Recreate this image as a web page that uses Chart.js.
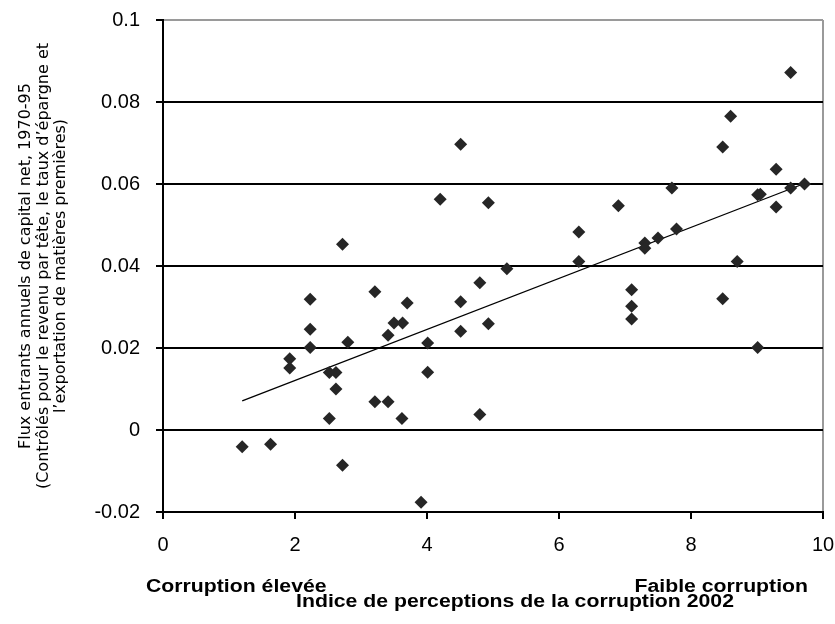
<!DOCTYPE html>
<html>
<head>
<meta charset="utf-8">
<script src="https://cdn.jsdelivr.net/npm/chart.js@4"></script>
<style>
  html, body { margin: 0; padding: 0; background: #fff; }
  #wrap { width: 835px; height: 624px; }
</style>
</head>
<body>
<div id="wrap"><canvas id="cpi-chart" width="835" height="624"></canvas></div>
<script>
// corruption perception index (x) vs net capital inflows (y)
const cpiScores = [1.2, 1.63, 1.92, 1.92, 2.23, 2.23, 2.23, 2.52, 2.52, 2.62, 2.62, 2.72, 2.72, 2.8,
    3.21, 3.21, 3.41, 3.41, 3.5, 3.63, 3.62, 3.7, 3.91, 4.01, 4.01, 4.2, 4.51, 4.51, 4.51, 4.8, 4.8,
    4.93, 4.93, 5.21, 6.3, 6.3, 6.9, 7.1, 7.1, 7.1, 7.3, 7.3, 7.5, 7.71, 7.78, 8.48, 8.48, 8.6, 8.7,
    9.01, 9.05, 9.01, 9.29, 9.29, 9.51, 9.51, 9.72];
const capitalInflows = [-0.0041, -0.0035, 0.0174, 0.0151, 0.0319, 0.0246, 0.0201, 0.014, 0.0028, 0.014, 0.01, 0.0453, -0.0086, 0.0214,
    0.0337, 0.0069, 0.0231, 0.0069, 0.0261, 0.0261, 0.0028, 0.031, -0.0176, 0.0212, 0.0141, 0.0563, 0.0697, 0.0313, 0.0241, 0.0359, 0.0038,
    0.0554, 0.0259, 0.0393, 0.0483, 0.0411, 0.0547, 0.0342, 0.0302, 0.0271, 0.0456, 0.0443, 0.0468, 0.059, 0.049, 0.069, 0.032, 0.0765, 0.0411,
    0.0574, 0.0575, 0.0201, 0.0636, 0.0544, 0.0872, 0.059, 0.06];

// fitted trend line end points
const trendX = [1.2, 9.7];
const trendY = [0.0071, 0.060];

const xTicks = [0, 2, 4, 6, 8, 10];
const yTicks = [-0.02, 0, 0.02, 0.04, 0.06, 0.08, 0.1];
const yTickLabels = ["-0.02", "0", "0.02", "0.04", "0.06", "0.08", "0.1"];

const yTitle = [
    "Flux entrants annuels de capital net, 1970-95",
    "(Contrôlés pour le revenu par tête, le taux d’épargne et",
    "l’exportation de matières premières)"
];
const leftNote = "Corruption élevée";
const rightNote = "Faible corruption";
const xTitle = "Indice de perceptions de la corruption 2002";

// bottom captions, drawn under the x tick labels
const captionPlugin = {
    id: 'captions',
    afterDraw(chart) {
        const ctx = chart.ctx;
        const stretch = 1.18;
        ctx.save();
        ctx.fillStyle = '#000';
        ctx.font = 'bold 18px "Liberation Sans", Arial, sans-serif';
        ctx.textBaseline = 'alphabetic';

        function put(text, x, y, align) {
            const w = ctx.measureText(text).width * stretch;
            let left = x;
            if (align === 'right') left = x - w;
            if (align === 'center') left = x - w / 2;
            ctx.save();
            ctx.translate(left, y);
            ctx.scale(stretch, 1);
            ctx.textAlign = 'left';
            ctx.fillText(text, 0, 0);
            ctx.restore();
        }

        put(leftNote, 146, 592, 'left');
        put(rightNote, 808, 592, 'right');
        put(xTitle, 515, 607, 'center');
        ctx.restore();
    }
};

const ctx = document.getElementById('cpi-chart').getContext('2d');

new Chart(ctx, {
    type: 'scatter',
    data: {
        datasets: [{
            label: 'Pays',
            data: cpiScores.map((x, i) => ({ x: x, y: capitalInflows[i] })),
            pointStyle: 'rectRot',
            pointRadius: 6.5,
            pointHoverRadius: 6.5,
            backgroundColor: '#262626',
            borderWidth: 0
        }, {
            label: 'Tendance',
            data: trendX.map((x, i) => ({ x: x, y: trendY[i] })),
            showLine: true,
            borderColor: '#000',
            borderWidth: 1.3,
            pointRadius: 0
        }]
    },
    plugins: [captionPlugin],
    options: {
        responsive: false,
        animation: false,
        layout: { padding: { top: 20, right: 12, left: 0, bottom: 0 } },
        plugins: {
            legend: { display: false },
            tooltip: { enabled: false }
        },
        scales: {
            x: {
                type: 'linear',
                min: 0,
                max: 10,
                afterBuildTicks: (scale) => { scale.ticks = xTicks.map(v => ({ value: v })); },
                afterFit: (scale) => {
                    scale.height = 112;
                    scale.paddingLeft = 11;
                    scale.paddingRight = 11;
                },
                border: { color: '#000', width: 2 },
                grid: {
                    color: (c) => (c.tick && c.tick.value === 10 ? '#9a9a9a' : 'rgba(0,0,0,0)'),
                    lineWidth: 2,
                    tickColor: '#000',
                    tickLength: 7
                },
                ticks: {
                    color: '#000',
                    padding: 14,
                    maxRotation: 0,
                    font: { family: '"Liberation Sans", Arial, sans-serif', size: 20 }
                }
            },
            y: {
                type: 'linear',
                min: -0.02,
                max: 0.1,
                afterBuildTicks: (scale) => { scale.ticks = yTicks.map(v => ({ value: v })); },
                afterFit: (scale) => {
                    scale.width = 163;
                    scale.paddingTop = 12;
                    scale.paddingBottom = 12;
                },
                border: { color: '#000', width: 2 },
                grid: {
                    color: (c) => (c.tick && c.tick.value === 0.1 ? '#9a9a9a' : '#000'),
                    lineWidth: 2,
                    tickColor: '#000',
                    tickLength: 7
                },
                ticks: {
                    color: '#000',
                    padding: 16,
                    font: { family: '"Liberation Sans", Arial, sans-serif', size: 20 },
                    callback: (value) => {
                        const k = yTicks.indexOf(value);
                        return k >= 0 ? yTickLabels[k] : '';
                    }
                },
                title: {
                    display: true,
                    text: yTitle,
                    color: '#000',
                    padding: { top: 17, bottom: 0 },
                    font: { family: '"DejaVu Sans", sans-serif', size: 16, lineHeight: 1.1 }
                }
            }
        }
    }
});
</script>
</body>
</html>
